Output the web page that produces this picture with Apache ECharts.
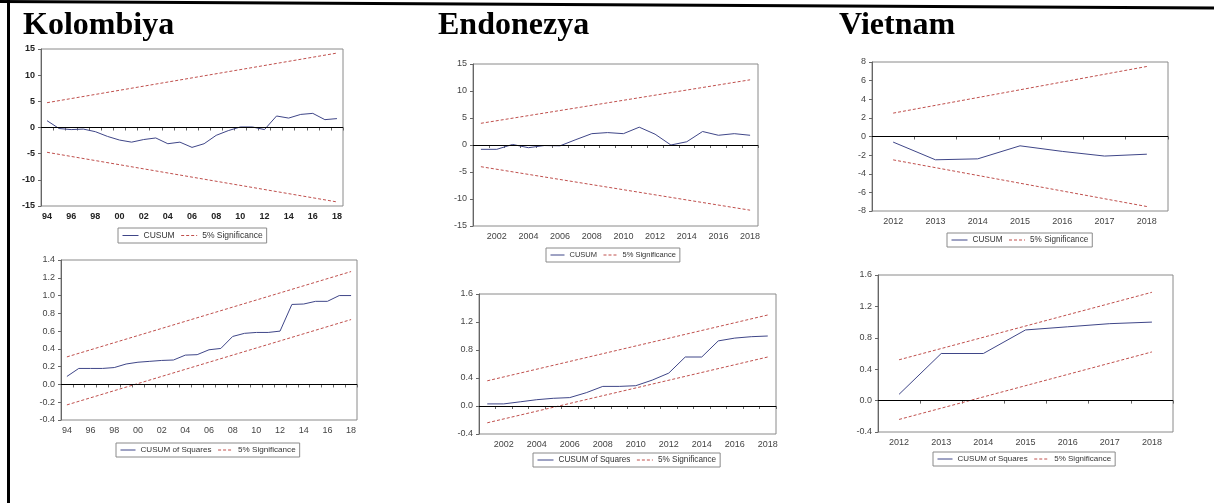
<!DOCTYPE html>
<html>
<head>
<meta charset="utf-8">
<script src="https://cdn.jsdelivr.net/npm/echarts@6/dist/echarts.min.js"></script>
<style>
  html, body { margin: 0; padding: 0; background: #fff; }
  #chart { width: 1214px; height: 503px; }
</style>
</head>
<body>
<div id="chart"></div>
<script>
// ---- Colombia (1994-2018) ----
const colYears = ['1994','1995','1996','1997','1998','1999','2000','2001','2002','2003','2004','2005','2006',
                  '2007','2008','2009','2010','2011','2012','2013','2014','2015','2016','2017','2018'];
const colCusum = [1.3, -0.2, -0.4, -0.3, -0.8, -1.7, -2.4, -2.8, -2.3, -2.0, -3.1, -2.8, -3.8,
                  -3.1, -1.5, -0.6, 0.1, 0.1, -0.4, 2.2, 1.8, 2.5, 2.7, 1.5, 1.7];
const colCusumUpper = [4.74, 14.22];   // first / last year
const colCusumLower = [-4.74, -14.22];
const colCusumSq = [0.09, 0.18, 0.18, 0.18, 0.19, 0.23, 0.25, 0.26, 0.27, 0.275, 0.33, 0.335, 0.39,
                    0.405, 0.54, 0.575, 0.585, 0.585, 0.60, 0.90, 0.905, 0.935, 0.935, 1.0, 1.0];
const colSqUpper = [0.31, 1.27];
const colSqLower = [-0.23, 0.73];

// ---- Indonesia (2001-2018) ----
const idnYears = ['2001','2002','2003','2004','2005','2006','2007','2008','2009','2010','2011','2012',
                  '2013','2014','2015','2016','2017','2018'];
const idnCusum = [-0.8, -0.8, 0.1, -0.5, -0.1, -0.15, 1.0, 2.1, 2.3, 2.1, 3.3, 2.0,
                  0.0, 0.6, 2.5, 1.8, 2.1, 1.8];
const idnCusumUpper = [4.02, 12.07];
const idnCusumLower = [-4.02, -12.07];
const idnCusumSq = [0.03, 0.03, 0.06, 0.09, 0.11, 0.12, 0.19, 0.28, 0.28, 0.29, 0.37, 0.47,
                    0.70, 0.70, 0.93, 0.97, 0.99, 1.0];
const idnSqUpper = [0.36, 1.30];
const idnSqLower = [-0.24, 0.70];

// ---- Vietnam (2012-2018) ----
const vnmYears = ['2012','2013','2014','2015','2016','2017','2018'];
const vnmCusum = [-0.6, -2.5, -2.4, -1.0, -1.6, -2.1, -1.9];
const vnmCusumUpper = [2.51, 7.52];
const vnmCusumLower = [-2.51, -7.52];
const vnmCusumSq = [0.08, 0.60, 0.60, 0.90, 0.94, 0.98, 1.0];
const vnmSqUpper = [0.52, 1.38];
const vnmSqLower = [-0.24, 0.62];

const countryTitles = ['Kolombiya', 'Endonezya', 'Vietnam'];
const sigName = '5% Significance';

const LINE_COLOR = '#3f4688';
const SIG_COLOR = '#c0504d';
const SANS = '"Liberation Sans", Arial, sans-serif';

const panels = [
  { years: colYears, values: colCusum, upper: colCusumUpper, lower: colCusumLower, name: 'CUSUM',
    yMin: -15, yMax: 15, yStep: 5, short: true, bold: true, everyOther: true, legendFont: 8.5, iconW: 16,
    grid: { left: 41, top: 49, width: 302, height: 157 }, legend: { left: 118, top: 228 } },
  { years: idnYears, values: idnCusum, upper: idnCusumUpper, lower: idnCusumLower, name: 'CUSUM',
    yMin: -15, yMax: 15, yStep: 5, everyOther: true, legendFont: 7.5, iconW: 14,
    grid: { left: 473, top: 64, width: 285, height: 162 }, legend: { left: 546, top: 248 } },
  { years: vnmYears, values: vnmCusum, upper: vnmCusumUpper, lower: vnmCusumLower, name: 'CUSUM',
    yMin: -8, yMax: 8, yStep: 2, legendFont: 8.2, iconW: 16,
    grid: { left: 872, top: 62, width: 296, height: 149 }, legend: { left: 947, top: 233 } },
  { years: colYears, values: colCusumSq, upper: colSqUpper, lower: colSqLower, name: 'CUSUM of Squares',
    yMin: -0.4, yMax: 1.4, yStep: 0.2, short: true, decimals: 1, everyOther: true, legendFont: 8.1, iconW: 15,
    grid: { left: 61, top: 260, width: 296, height: 160 }, legend: { left: 116, top: 443 } },
  { years: idnYears, values: idnCusumSq, upper: idnSqUpper, lower: idnSqLower, name: 'CUSUM of Squares',
    yMin: -0.4, yMax: 1.6, yStep: 0.4, decimals: 1, everyOther: true, legendFont: 8.2, iconW: 16,
    grid: { left: 479, top: 294, width: 297, height: 140 }, legend: { left: 533, top: 453 } },
  { years: vnmYears, values: vnmCusumSq, upper: vnmSqUpper, lower: vnmSqLower, name: 'CUSUM of Squares',
    yMin: -0.4, yMax: 1.6, yStep: 0.4, decimals: 1, legendFont: 8.0, iconW: 15,
    grid: { left: 878, top: 275, width: 295, height: 157 }, legend: { left: 933, top: 452 } }
];

const grid = [], xAxis = [], yAxis = [], series = [], legend = [];

panels.forEach((p, i) => {
  const labelColor = p.bold ? '#222' : '#444';
  const labelWeight = p.bold ? 'bold' : 'normal';
  grid.push(Object.assign({ show: true, borderColor: '#8a8a8a', borderWidth: 1,
                            backgroundColor: '#fff' }, p.grid));
  xAxis.push({
    type: 'category', gridIndex: i, data: p.years, boundaryGap: true,
    axisLine: { lineStyle: { color: '#666', width: 1 } },
    axisTick: { show: true, interval: 0, length: 3, lineStyle: { color: '#666' } },
    axisLabel: {
      interval: p.everyOther ? ((idx, val) => Number(val) % 2 === 0) : 0,
      formatter: v => p.short ? v.slice(2) : v,
      color: labelColor, fontWeight: labelWeight, fontSize: 9, fontFamily: SANS, margin: 6
    },
    splitLine: { show: false }
  });
  yAxis.push({
    type: 'value', gridIndex: i, min: p.yMin, max: p.yMax, interval: p.yStep,
    axisLine: { show: true, lineStyle: { color: '#666', width: 1 } },
    axisTick: { show: true, length: 3, lineStyle: { color: '#666' } },
    axisLabel: {
      formatter: v => p.decimals ? v.toFixed(p.decimals) : String(Math.round(v)),
      color: labelColor, fontWeight: labelWeight, fontSize: 9, fontFamily: SANS, margin: 6
    },
    splitLine: { show: false }
  });

  const last = p.years.length - 1;
  series.push({
    type: 'line', name: p.name, xAxisIndex: i, yAxisIndex: i,
    data: p.values, symbol: 'none', z: 3,
    lineStyle: { color: LINE_COLOR, width: 1 }, itemStyle: { color: LINE_COLOR },
    markLine: {
      silent: true, symbol: 'none', label: { show: false },
      lineStyle: { color: '#000', type: 'solid', width: 1 },
      data: [{ yAxis: 0 }]
    }
  });
  [p.upper, p.lower].forEach(band => {
    series.push({
      type: 'line', name: sigName, xAxisIndex: i, yAxisIndex: i,
      data: [[0, band[0]], [last, band[1]]], symbol: 'none', z: 2,
      lineStyle: { color: SIG_COLOR, width: 1, type: [3, 2] }, itemStyle: { color: SIG_COLOR }
    });
  });

  legend.push({
    left: p.legend.left, top: p.legend.top,
    data: [p.name, sigName],
    orient: 'horizontal',
    itemWidth: p.iconW, itemHeight: 8, itemGap: 6,
    padding: [3, 4],
    borderColor: '#8a8a8a', borderWidth: 1, backgroundColor: '#fff',
    itemStyle: { opacity: 0 },
    lineStyle: { width: 1 },
    textStyle: { fontSize: p.legendFont, color: '#333', fontFamily: SANS },
    selectedMode: false
  });
});

const titleXs = [23, 438, 839];
const graphic = countryTitles.map((t, k) => ({
  type: 'text', left: titleXs[k], top: 10,
  style: { text: t, font: 'bold 32px "Liberation Serif", "Times New Roman", serif', fill: '#000' }
}));
// page frame: left rule and top rule
graphic.push({ type: 'line', shape: { x1: 8.5, y1: 0, x2: 8.5, y2: 503 },
               style: { stroke: '#000', lineWidth: 3 } });
graphic.push({ type: 'line', shape: { x1: 0, y1: 1.5, x2: 1214, y2: 8 },
               style: { stroke: '#000', lineWidth: 3 } });

const chart = echarts.init(document.getElementById('chart'), null, { renderer: 'canvas' });
chart.setOption({
  backgroundColor: '#fff',
  animation: false,
  grid, xAxis, yAxis, series, legend, graphic
});
</script>
</body>
</html>
